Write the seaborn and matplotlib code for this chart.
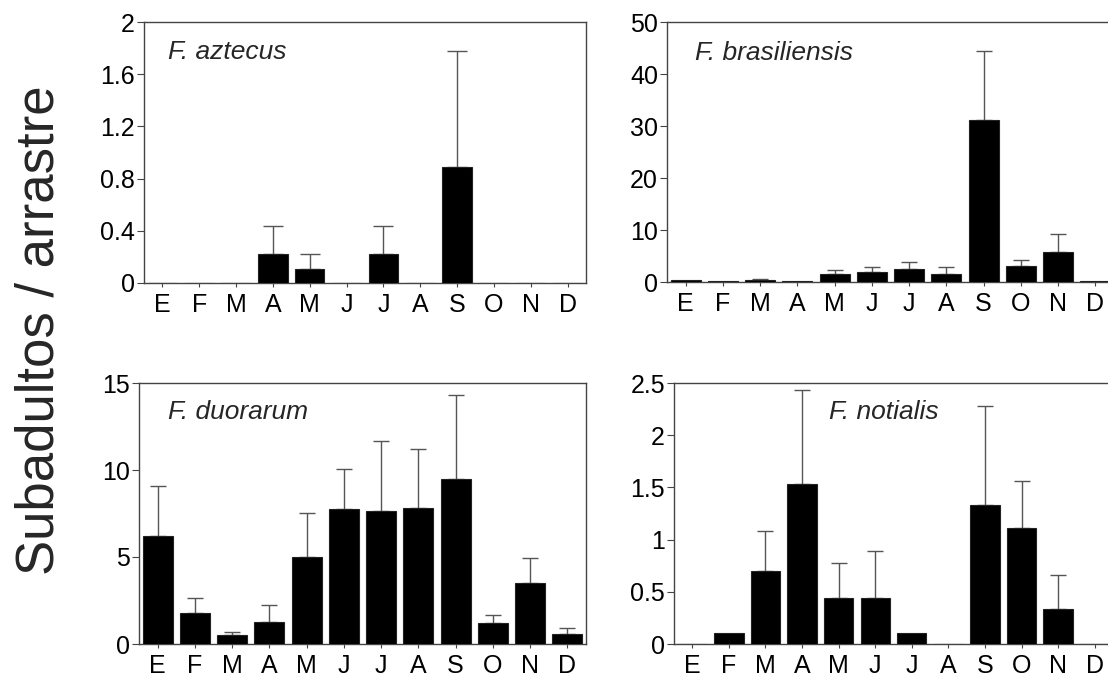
import numpy as np
import pandas as pd
import seaborn as sns
import matplotlib
matplotlib.use("Agg")
import matplotlib.pyplot as plt
from matplotlib.ticker import FuncFormatter, MultipleLocator

# Monthly captures of subadult shrimp per trawl (mean + upper error)
MONTHS = ["E", "F", "M", "A", "M", "J", "J", "A", "S", "O", "N", "D"]

AZTECUS_MEAN = [0, 0, 0, 0.22, 0.11, 0, 0.22, 0, 0.89, 0, 0, 0]
AZTECUS_ERR = [0, 0, 0, 0.22, 0.11, 0, 0.22, 0, 0.89, 0, 0, 0]

BRASILIENSIS_MEAN = [0.45, 0.25, 0.4, 0.15, 1.6, 1.9, 2.5, 1.5, 31.2, 3.1, 5.8, 0.1]
BRASILIENSIS_ERR = [0, 0, 0.15, 0, 0.7, 1.0, 1.3, 1.4, 13.3, 1.1, 3.4, 0]

DUORARUM_MEAN = [6.22, 1.79, 0.5, 1.25, 5.01, 7.78, 7.64, 7.8, 9.47, 1.23, 3.52, 0.57]
DUORARUM_ERR = [2.84, 0.88, 0.21, 0.98, 2.54, 2.26, 4.04, 3.43, 4.82, 0.42, 1.44, 0.37]

NOTIALIS_MEAN = [0, 0.11, 0.70, 1.53, 0.445, 0.445, 0.11, 0, 1.335, 1.11, 0.333, 0]
NOTIALIS_ERR = [0, 0, 0.38, 0.90, 0.335, 0.445, 0, 0, 0.945, 0.455, 0.33, 0]

SPECIES = ["F. aztecus", "F. brasiliensis", "F. duorarum", "F. notialis"]
Y_LIMITS = [(2.0, 0.4), (50, 10), (15, 5), (2.5, 0.5)]

sns.set_style("ticks")
plt.rcParams["font.family"] = ["Liberation Sans", "DejaVu Sans"]
plt.rcParams["axes.edgecolor"] = "#444444"
plt.rcParams["axes.linewidth"] = 1.0

W, H = 1108, 677
fig = plt.figure(figsize=(W / 100, H / 100), dpi=100)


def px_axes(left, top, right, bottom):
    return fig.add_axes([left / W, 1 - bottom / H, (right - left) / W, (bottom - top) / H])


axes = [
    px_axes(144, 22, 586, 283),
    px_axes(667, 22, 1114, 282),
    px_axes(139, 383, 586, 644),
    px_axes(674, 383, 1113, 644),
]
label_pos = [(0.054, 0.885), (0.063, 0.88), (0.065, 0.889), (0.353, 0.889)]
cap_sizes = [7, 6, 6, 6]

series = [
    (AZTECUS_MEAN, AZTECUS_ERR),
    (BRASILIENSIS_MEAN, BRASILIENSIS_ERR),
    (DUORARUM_MEAN, DUORARUM_ERR),
    (NOTIALIS_MEAN, NOTIALIS_ERR),
]

for ax, (mean, err), name, (ymax, step), (lx, ly), cs in zip(
    axes, series, SPECIES, Y_LIMITS, label_pos, cap_sizes
):
    df = pd.DataFrame({"month": np.arange(len(MONTHS)), "value": mean, "err": err})
    sns.barplot(
        data=df, x="month", y="value", color="black", saturation=1,
        width=0.8, errorbar=None, edgecolor="#222222", linewidth=0.8,
        ax=ax, zorder=3,
    )
    show = df[df["err"] > 0]
    ax.errorbar(
        show["month"], show["value"],
        yerr=[np.zeros(len(show)), show["err"]],
        fmt="none", ecolor="#555555", elinewidth=1.0,
        capsize=cs, capthick=1.0, zorder=2,
    )
    ax.set_xlim(-0.5, 11.5)
    ax.set_ylim(0, ymax)
    ax.yaxis.set_major_locator(MultipleLocator(step))
    ax.yaxis.set_major_formatter(FuncFormatter(lambda v, p: f"{v:g}"))
    ax.set_xticks(range(len(MONTHS)))
    ax.set_xticklabels(MONTHS)
    ax.set_xlabel("")
    ax.set_ylabel("")
    ax.tick_params(axis="x", length=3, width=0.8, pad=4, labelsize=18, colors="#444444",
                   labelcolor="black")
    ax.tick_params(axis="y", length=5, width=0.8, pad=1.5, labelsize=18, colors="#444444",
                   labelcolor="black")
    for s in ax.spines.values():
        s.set_visible(True)
    ax.text(lx, ly, name, transform=ax.transAxes, fontsize=19, style="italic",
            ha="left", va="center")

fig.text(40 / W, 1 - 330 / H, "Subadultos / arrastre", rotation=90,
         fontsize=38, ha="center", va="center")

fig.savefig("out.png", dpi=100)
